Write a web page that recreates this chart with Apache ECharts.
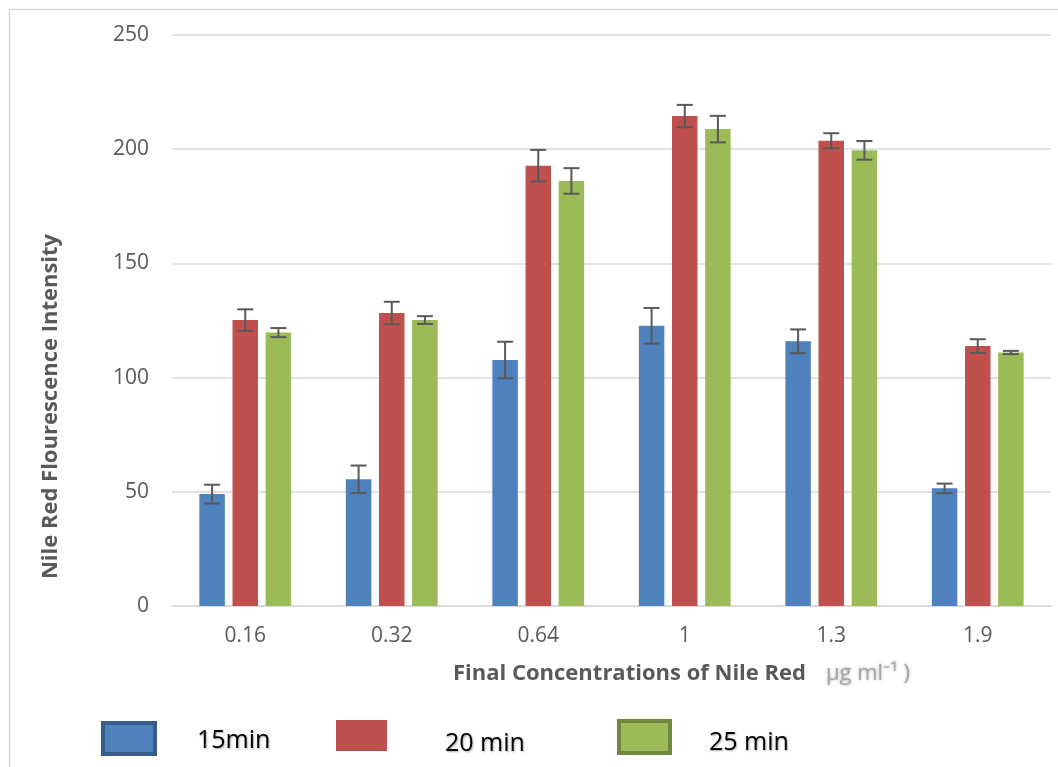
<!DOCTYPE html>
<html>
<head>
<meta charset="utf-8">
<script src="https://cdn.jsdelivr.net/npm/echarts@6/dist/echarts.min.js"></script>
<style>
  html, body { margin: 0; padding: 0; background: #fff; }
  #chart { width: 1058px; height: 767px; }
</style>
</head>
<body>
<div id="chart"></div>
<script>
const categories = ['0.16', '0.32', '0.64', '1', '1.3', '1.9'];
const seriesNames = ['15min', '20 min', '25 min'];
const values15 = [49, 55.5, 107.7, 122.7, 115.9, 51.5];
const errors15 = [4.1, 6.0, 8.0, 7.8, 5.2, 2.1];
const values20 = [125.2, 128.3, 192.8, 214.5, 203.7, 113.8];
const errors20 = [4.7, 4.9, 6.9, 4.9, 3.3, 3.0];
const values25 = [119.7, 125.2, 186.1, 208.8, 199.5, 111.0];
const errors25 = [2.0, 1.7, 5.6, 5.8, 4.1, 0.7];
const yTicks = [0, 50, 100, 150, 200, 250];

const colors = ['#4f81bd', '#c0504d', '#9bbb59'];
const BAR_W = 25.5;
const GAP_RATIO = 0.3;
const FONT = "'Open Sans', sans-serif";

function errSeries(idx, vals, errs) {
  return {
    type: 'custom',
    name: seriesNames[idx] + ' error',
    data: vals.map((v, i) => [i, v, errs[i]]),
    encode: { x: 0, y: 1 },
    z: 10,
    silent: true,
    renderItem: function (params, api) {
      const ci = api.value(0), v = api.value(1), e = api.value(2);
      const off = (idx - 1) * (BAR_W + BAR_W * GAP_RATIO);
      const x = api.coord([ci, v])[0] + off;
      const yt = api.coord([ci, v + e])[1];
      const yb = api.coord([ci, v - e])[1];
      const cap = 8;
      const st = { stroke: '#595959', lineWidth: 2 };
      return {
        type: 'group',
        children: [
          { type: 'line', shape: { x1: x, y1: yt, x2: x, y2: yb }, style: st },
          { type: 'line', shape: { x1: x - cap, y1: yt, x2: x + cap, y2: yt }, style: st },
          { type: 'line', shape: { x1: x - cap, y1: yb, x2: x + cap, y2: yb }, style: st }
        ]
      };
    }
  };
}

function legendFor(name, left, top, w, h, textPad, border) {
  const item = { name: name };
  if (border) item.itemStyle = { borderColor: border, borderWidth: 4 };
  return {
    data: [item],
    left: left,
    top: top,
    padding: 0,
    icon: 'rect',
    itemWidth: w,
    itemHeight: h,
    selectedMode: false,
    formatter: '{t|{name}}',
    textStyle: {
      rich: {
        t: {
          fontFamily: FONT,
          fontSize: 25,
          color: '#000',
          padding: textPad,
          textShadowColor: 'rgba(0,0,0,0.35)',
          textShadowBlur: 2,
          textShadowOffsetX: 1,
          textShadowOffsetY: 1
        }
      }
    }
  };
}

const chart = echarts.init(document.getElementById('chart'));
chart.setOption({
  animation: false,
  backgroundColor: '#fff',
  textStyle: { fontFamily: FONT },
  graphic: [{
    type: 'rect',
    shape: { x: 9.5, y: 9.5, width: 1100, height: 800 },
    style: { fill: 'none', stroke: '#d9d9d9', lineWidth: 1.5 },
    silent: true
  }],
  grid: { left: 172, right: 7, top: 35, bottom: 161 },
  legend: [
    legendFor(seriesNames[0], 101, 721, 52, 31, [5, 0, 0, 37], '#385d8a'),
    legendFor(seriesNames[1], 336, 720, 51, 31, [16, 0, 0, 53], null),
    legendFor(seriesNames[2], 617, 719, 51, 32, [11, 0, 0, 34], '#71893f')
  ],
  xAxis: {
    type: 'category',
    data: categories,
    axisLine: { show: true, lineStyle: { color: '#d9d9d9', width: 1.5 } },
    axisTick: { show: false },
    axisLabel: { fontFamily: FONT, fontSize: 21, color: '#595959', margin: 20 },
    name: '{a|Final Concentrations of Nile Red}{b|µg ml⁻¹ )}',
    nameLocation: 'middle',
    nameGap: 57,
    nameTextStyle: {
      padding: [0, 0, 0, 140],
      rich: {
        a: { fontFamily: FONT, fontSize: 22, fontWeight: 'bold', color: '#595959' },
        b: { fontFamily: FONT, fontSize: 22, color: '#a6a6a6', padding: [0, 0, 0, 20],
             textShadowColor: 'rgba(150,150,150,0.8)', textShadowBlur: 3 }
      }
    }
  },
  yAxis: {
    type: 'value',
    min: yTicks[0],
    max: yTicks[yTicks.length - 1],
    interval: yTicks[1] - yTicks[0],
    axisLine: { show: false },
    axisTick: { show: false },
    splitLine: { lineStyle: { color: '#d9d9d9', width: 1.5 } },
    axisLabel: { fontFamily: FONT, fontSize: 21, color: '#595959', margin: 23 },
    name: 'Nile Red Flourescence Intensity',
    nameLocation: 'middle',
    nameGap: 110,
    nameTextStyle: {
      fontFamily: FONT, fontSize: 22, fontWeight: 'bold', color: '#595959',
      padding: [0, 172, 0, 0]
    }
  },
  series: [
    { type: 'bar', name: seriesNames[0], data: values15, barWidth: BAR_W, barGap: (GAP_RATIO * 100) + '%',
      itemStyle: { color: colors[0] } },
    { type: 'bar', name: seriesNames[1], data: values20, barWidth: BAR_W, barGap: (GAP_RATIO * 100) + '%',
      itemStyle: { color: colors[1] } },
    { type: 'bar', name: seriesNames[2], data: values25, barWidth: BAR_W, barGap: (GAP_RATIO * 100) + '%',
      itemStyle: { color: colors[2] } },
    errSeries(0, values15, errors15),
    errSeries(1, values20, errors20),
    errSeries(2, values25, errors25)
  ]
});
</script>
</body>
</html>
